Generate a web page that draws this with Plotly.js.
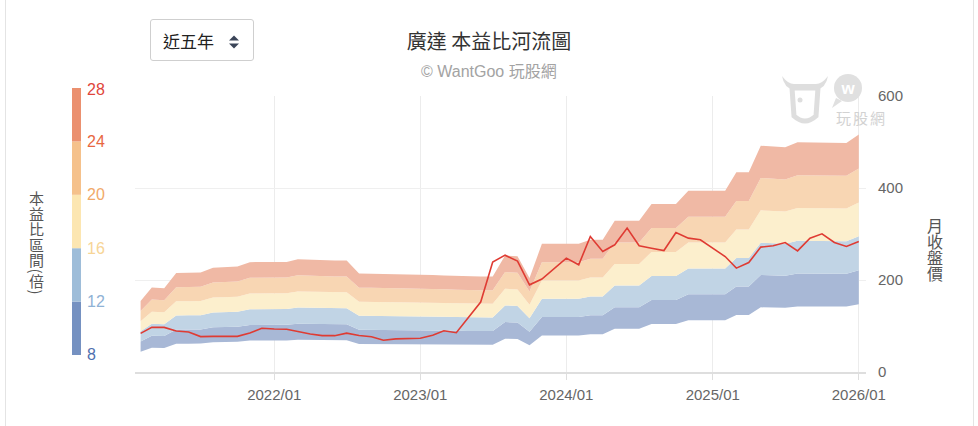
<!DOCTYPE html>
<html><head><meta charset="utf-8">
<script src="https://cdn.plot.ly/plotly-3.0.1.min.js"></script>
<style>
html,body{margin:0;padding:0;background:#fff;}
#wrap{position:relative;width:978px;height:426px;overflow:hidden;background:#fff;}
#chart{position:absolute;left:0;top:0;width:978px;height:426px;}
.frame{position:absolute;top:0;height:426px;width:1px;background:#e4e4e4;}
.vt{position:absolute;writing-mode:vertical-rl;font-family:"Noto Sans CJK TC","Noto Sans CJK SC",sans-serif;color:#555;line-height:1;}
#sel{position:absolute;left:150px;top:19px;width:104px;height:42px;border:1px solid #cfcfcf;border-radius:3px;box-sizing:border-box;background:#fff;}
#sel span{position:absolute;left:12px;top:0;line-height:41px;font-family:"Noto Sans CJK TC",sans-serif;font-size:17px;color:#222;}
#sel svg{position:absolute;left:76px;top:14px;}
#wm{position:absolute;left:776px;top:68px;pointer-events:none;}
</style>
</head><body>
<div id="wrap">
  <div id="chart"></div>
  <div class="frame" style="left:5px"></div>
  <div class="frame" style="left:973px"></div>
  <div id="sel"><span>近五年</span>
    <svg width="14" height="16" viewBox="0 0 14 16"><path d="M2 6.5 L12 6.5 L7 1.5 Z" fill="#3b4558"/><path d="M2 9.5 L12 9.5 L7 14.5 Z" fill="#3b4558"/></svg>
  </div>
  <div class="vt" style="left:29px;top:191px;font-size:15px;letter-spacing:0.5px;">本益比區間(倍)</div>
  <div class="vt" style="left:927px;top:218px;font-size:16px;">月收盤價</div>
  <svg id="wm" width="120" height="62" viewBox="0 0 120 62">
    <path d="M6 8 Q8 20 18 22 L40 22 Q50 20 52 8 Q46 16 40 16 L18 16 Q12 16 6 8 Z" fill="#dedede"/>
    <path d="M16 20 L42 20 L40 48 Q29 58 18 48 Z" fill="none" stroke="#dedede" stroke-width="5"/>
    <circle cx="24" cy="32" r="2.5" fill="#dedede"/>
    <circle cx="72" cy="20" r="14" fill="#e0e0e0"/>
    <path d="M60 30 L56 40 L66 33 Z" fill="#e0e0e0"/>
    <text x="72" y="26" text-anchor="middle" font-family="Liberation Sans" font-weight="bold" font-size="17" fill="#fff">w</text>
    <text x="60" y="56" font-family="Noto Sans CJK TC" font-size="15" fill="#d2d2d2" letter-spacing="2">玩股網</text>
  </svg>
</div>
<script>
// ---- data ----
const months = ['2021-02','2021-03','2021-04','2021-05','2021-06','2021-07','2021-08','2021-09','2021-10','2021-11','2021-12',
 '2022-01','2022-02','2022-03','2022-04','2022-05','2022-06','2022-07','2022-08','2022-09','2022-10','2022-11','2022-12',
 '2023-01','2023-02','2023-03','2023-04','2023-05','2023-06','2023-07','2023-08','2023-09','2023-10','2023-11','2023-12',
 '2024-01','2024-02','2024-03','2024-04','2024-05','2024-06','2024-07','2024-08','2024-09','2024-10','2024-11','2024-12',
 '2025-01','2025-02','2025-03','2025-04','2025-05','2025-06','2025-07','2025-08','2025-09','2025-10','2025-11','2025-12','2026-01'];
// trailing EPS used for the PE bands
const eps = [5.52,6.56,6.5,7.68,7.7,7.72,8.1,8.15,8.19,8.53,8.53,
 8.55,8.55,8.76,8.72,8.66,8.66,8.66,7.64,7.63,7.62,7.6,7.58,
 7.56,7.54,7.5,7.46,7.42,7.41,7.41,9.05,8.98,7.3,9.95,9.95,
 9.95,9.95,10.26,10.26,11.74,11.74,11.74,13.04,13.04,13.04,14.07,14.07,
 14.07,14.07,15.5,15.5,17.57,17.5,17.44,17.83,17.83,17.83,17.8,17.78,18.43];
// monthly close price
const price = [84,97,97,89,87,77,77.5,77,77.5,85,95,
 93.5,93,88,82.5,79,79,84.5,79.5,76.5,69,72,72,
 73.5,80,89.5,85.5,118,152,239,254,241,189.5,202,225,
 247.5,233,294.6,262,276.5,312.8,274.3,269,264,303.4,291,287.4,
 269.3,251,225.8,238,271.5,274.3,281.5,263.4,291,300.5,281.5,272.8,283.7];
const peLevels = [8,12,16,20,24,28];
const bandFill = ['#a8b8d6','#c1d4e5','#fcefcd','#f8d6b3','#f0b9a5'];
const barFill  = ['#7591c1','#9ebdd9','#fce6b1','#f5c18b','#eb906f'];
const levelColor = ['#4f6fae','#8fb2d5','#f7d596','#f1a969','#e8673f','#e0453b'];
const xTickVals = ['2022-01-01','2023-01-01','2024-01-01','2025-01-01','2026-01-01'];
const xTickText = ['2022/01','2023/01','2024/01','2025/01','2026/01'];
const yTickVals = [0,200,400,600];

// ---- geometry helpers (plot area in pixels) ----
const L=135, R=866, T=96, B=372, W=978, H=426;
const px = x => (x-L)/(R-L);
const py = y => (B-y)/(B-T);

const traces = [];
peLevels.forEach((m,k)=>{
  traces.push({
    x: months, y: eps.map(e=>e*m), type:'scatter', mode:'lines',
    line:{width:0, color:'rgba(0,0,0,0)'},
    fill: k===0 ? 'none' : 'tonexty',
    fillcolor: k===0 ? undefined : bandFill[k-1],
    hoverinfo:'skip', showlegend:false
  });
});
traces.push({x: months, y: price, type:'scatter', mode:'lines',
  line:{color:'#df3b33', width:1.6}, showlegend:false});

// legend colour bar
const barTop=88, barBot=355, barX0=72, barX1=81;
const shapes = [], annotations = [];
const seg = (barBot-barTop)/(peLevels.length-1);
for(let k=0;k<peLevels.length-1;k++){
  const y0 = barBot - k*seg, y1 = barBot-(k+1)*seg;
  shapes.push({type:'rect', xref:'paper', yref:'paper', x0:px(barX0), x1:px(barX1), y0:py(y0), y1:py(y1),
    fillcolor:barFill[k], line:{width:0}, layer:'above'});
}
peLevels.forEach((m,k)=>{
  let yy = barBot - k*seg;
  if(k===peLevels.length-1) yy += 2;
  if(k===0) yy -= 1;
  annotations.push({xref:'paper', yref:'paper', x:px(85), y:py(yy), xanchor:'left', yanchor:'middle',
    text:String(m), showarrow:false, font:{family:'Liberation Sans, Arial, sans-serif', size:16, color:levelColor[k]}});
});
annotations.push({xref:'paper', yref:'paper', x:px(489), y:py(71), xanchor:'center', yanchor:'middle',
  text:'© WantGoo 玩股網', showarrow:false,
  font:{family:'Liberation Sans, Noto Sans CJK TC, sans-serif', size:16, color:'#a3a3a3'}});

const layout = {
  width:W, height:H,
  margin:{l:L, r:W-R, t:T, b:H-B, pad:0},
  paper_bgcolor:'rgba(0,0,0,0)', plot_bgcolor:'#fff',
  title:{text:'廣達 本益比河流圖', x:0.5, xanchor:'center', xref:'container', y:1-42/H, yanchor:'middle', yref:'container',
    font:{family:'Noto Sans CJK TC, sans-serif', size:20, color:'#333'}},
  xaxis:{type:'date', range:['2021-01-18','2026-01-19'], tickvals:xTickVals, ticktext:xTickText,
    showgrid:true, gridcolor:'#ececec', gridwidth:1, showline:true, linecolor:'#dedede', linewidth:2,
    ticks:'outside', ticklen:6, tickcolor:'#dedede', tickwidth:1, zeroline:false, ticklabelstandoff:2,
    tickfont:{family:'Liberation Sans, Arial, sans-serif', size:15, color:'#666'}, fixedrange:true},
  yaxis:{side:'right', range:[0,600], tickvals:yTickVals, showgrid:true, gridcolor:'#efefef', zeroline:false,
    showline:false, ticks:'', ticklabelstandoff:11,
    tickfont:{family:'Liberation Sans, Arial, sans-serif', size:15, color:'#666'}, fixedrange:true},
  shapes, annotations, showlegend:false, hovermode:false
};
Plotly.newPlot('chart', traces, layout, {displayModeBar:false, staticPlot:true});
</script>
</body></html>
